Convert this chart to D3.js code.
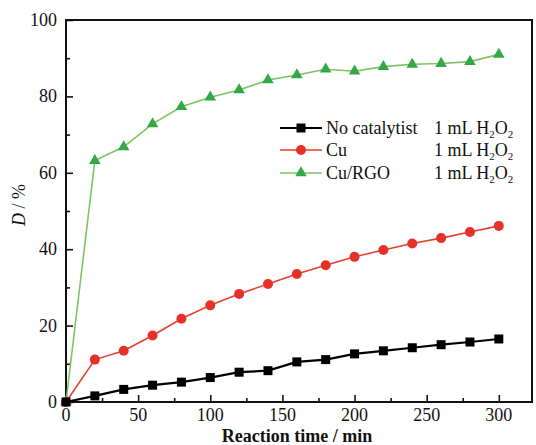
<!DOCTYPE html>
<html>
<head>
<meta charset="utf-8">
<script src="https://cdn.jsdelivr.net/npm/d3@7/dist/d3.min.js"></script>
<style>
  html, body { margin: 0; padding: 0; background: #fff; }
  svg text { font-family: "Liberation Serif", "Times New Roman", serif; fill: #111; }
</style>
</head>
<body>
<svg id="chart" width="536" height="445"></svg>
<script>
// reaction time (min)
var times = [0, 20, 40, 60, 80, 100, 120, 140, 160, 180, 200, 220, 240, 260, 280, 300];
// D / %
var noCatalyst = [0, 1.6, 3.3, 4.4, 5.2, 6.4, 7.8, 8.2, 10.5, 11.1, 12.6, 13.4, 14.2, 15.0, 15.7, 16.5];
var cuOnly     = [0, 11.1, 13.4, 17.4, 21.8, 25.3, 28.3, 30.9, 33.5, 35.8, 38.0, 39.8, 41.5, 42.9, 44.5, 46.1];
var cuRgo      = [0, 63.2, 66.8, 72.8, 77.3, 79.8, 81.7, 84.3, 85.6, 87.1, 86.6, 87.8, 88.4, 88.6, 89.1, 91.0];
var xTicks = [0, 50, 100, 150, 200, 250, 300];
var yTicks = [0, 20, 40, 60, 80, 100];
var seriesNames = ["No catalytist", "Cu", "Cu/RGO"];

var series = [
  { name: seriesNames[0], values: noCatalyst, line: "#000", fill: "#000", shape: "square", lw: 2.2 },
  { name: seriesNames[1], values: cuOnly, line: "#e5402e", fill: "#e8302a", shape: "circle", lw: 1.6 },
  { name: seriesNames[2], values: cuRgo, line: "#7cc463", fill: "#34a845", shape: "triangle", lw: 1.6 }
];

var svg = d3.select("#chart");
var L = 66, T = 20, R = 532, B = 402;

var x = d3.scaleLinear().domain([0, 323]).range([L, R]);
var y = d3.scaleLinear().domain([0, 100]).range([B, T]);

// frame
svg.append("rect").attr("x", L).attr("y", T).attr("width", R - L).attr("height", B - T)
  .attr("fill", "none").attr("stroke", "#111").attr("stroke-width", 2);

// bottom axis, ticks inward
var xMinor = d3.range(25, 325, 50);
var gx = svg.append("g").attr("transform", "translate(0," + B + ")");
gx.call(d3.axisTop(x).tickValues(xTicks).tickSize(7).tickFormat(""));
gx.append("g").call(d3.axisTop(x).tickValues(xMinor).tickSize(4).tickFormat(""));
gx.selectAll(".domain").remove();
gx.selectAll("line").attr("stroke", "#111").attr("stroke-width", 1.6);
gx.selectAll(".xl").data(xTicks).enter().append("text")
  .attr("x", function(d){ return x(d); }).attr("y", 19)
  .attr("text-anchor", "middle").attr("font-size", 18).text(function(d){ return d; });

// left axis, ticks inward
var yMinor = d3.range(10, 100, 20);
var gy = svg.append("g").attr("transform", "translate(" + L + ",0)");
gy.call(d3.axisRight(y).tickValues(yTicks).tickSize(7).tickFormat(""));
gy.append("g").call(d3.axisRight(y).tickValues(yMinor).tickSize(4).tickFormat(""));
gy.selectAll(".domain").remove();
gy.selectAll("line").attr("stroke", "#111").attr("stroke-width", 1.6);
gy.selectAll(".yl").data(yTicks).enter().append("text")
  .attr("x", -9).attr("y", function(d){ return y(d) + 6; })
  .attr("text-anchor", "end").attr("font-size", 18).text(function(d){ return d; });

// axis titles
svg.append("text").attr("x", 297).attr("y", 442).attr("text-anchor", "middle")
  .attr("font-size", 18).attr("font-weight", "bold").text("Reaction time / min");
var yt = svg.append("text").attr("transform", "translate(25,205) rotate(-90)")
  .attr("text-anchor", "middle").attr("font-size", 18);
yt.append("tspan").attr("font-style", "italic").text("D");
yt.append("tspan").text(" / %");

function marker(g, shape, fill) {
  if (shape === "square") {
    g.append("rect").attr("x", -4.5).attr("y", -4.5).attr("width", 9).attr("height", 9).attr("fill", fill);
  } else if (shape === "circle") {
    g.append("circle").attr("r", 5).attr("fill", fill);
  } else {
    g.append("path").attr("d", d3.symbol().type(d3.symbolTriangle).size(58)()).attr("fill", fill);
  }
}

var line = d3.line().x(function(d){ return x(d[0]); }).y(function(d){ return y(d[1]); });

// draw in reverse order so black sits on top
series.slice().reverse().forEach(function(s) {
  var pts = times.map(function(t, i){ return [t, s.values[i]]; });
  svg.append("path").datum(pts).attr("d", line).attr("fill", "none")
    .attr("stroke", s.line).attr("stroke-width", s.lw);
  pts.forEach(function(p) {
    var g = svg.append("g").attr("transform", "translate(" + x(p[0]) + "," + y(p[1]) + ")");
    marker(g, s.shape, s.fill);
  });
});

// legend
var legY = [128, 150, 173];
series.forEach(function(s, i) {
  var ly = legY[i];
  svg.append("line").attr("x1", 280).attr("x2", 322).attr("y1", ly).attr("y2", ly)
    .attr("stroke", s.line).attr("stroke-width", s.lw);
  var g = svg.append("g").attr("transform", "translate(301," + ly + ")");
  marker(g, s.shape, s.fill);
  svg.append("text").attr("x", 326).attr("y", ly + 6).attr("font-size", 18).text(s.name);
  var t = svg.append("text").attr("x", 434).attr("y", ly + 6).attr("font-size", 18);
  t.append("tspan").text("1 mL H");
  t.append("tspan").attr("font-size", 11).attr("dy", 4).text("2");
  t.append("tspan").attr("dy", -4).text("O");
  t.append("tspan").attr("font-size", 11).attr("dy", 4).text("2");
});
</script>
</body>
</html>
